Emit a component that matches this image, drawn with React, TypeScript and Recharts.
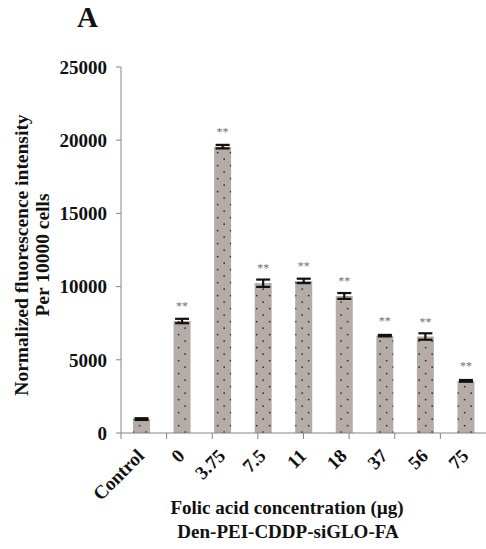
import { Bar, BarChart, ErrorBar, LabelList, XAxis, YAxis } from 'recharts';

const categories = ['Control', '0', '3.75', '7.5', '11', '18', '37', '56', '75'];
const intensity = [950, 7650, 19560, 10230, 10390, 9360, 6650, 6590, 3560];
const errors = [60, 150, 120, 250, 150, 200, 50, 220, 60];
const stars = ['', '**', '**', '**', '**', '**', '**', '**', '**'];
const yTicks = [0, 5000, 10000, 15000, 20000, 25000];
const boundaryTicks = [0, 1, 2, 3, 4, 5, 6, 7, 8, 9];

const data = categories.map((name, i) => ({
  name,
  value: intensity[i],
  err: errors[i],
  star: stars[i],
}));

const FONT = '"Liberation Serif", "Times New Roman", serif';
const AXIS = '#8a8280';

function CatTick(props: any) {
  const { x, y, payload } = props;
  return (
    <text
      x={x + 4}
      y={y + 15}
      transform={`rotate(-45 ${x + 4} ${y + 15})`}
      textAnchor="end"
      fontFamily={FONT}
      fontWeight="bold"
      fontSize={19}
      fill="#111"
    >
      {payload.value}
    </text>
  );
}

function StarLabel(props: any) {
  const { x, y, width, value } = props;
  if (!value) return null;
  return (
    <text
      x={x + width / 2}
      y={y - 11}
      textAnchor="middle"
      fontFamily={FONT}
      fontSize={12}
      fill="#707070"
    >
      {value}
    </text>
  );
}

function YTitle() {
  return (
    <g fontFamily={FONT} fontWeight="bold" fontSize={19.5} fill="#111">
      <text x={28} y={255} textAnchor="middle" transform="rotate(-90 28 255)">
        Normalized fluorescence intensity
      </text>
      <text x={49} y={255} textAnchor="middle" transform="rotate(-90 49 255)">
        Per 10000 cells
      </text>
    </g>
  );
}

function XTitle() {
  return (
    <g fontFamily={FONT} fontWeight="bold" fontSize={19} fill="#111">
      <text x={287} y={514} textAnchor="middle">
        Folic acid concentration (µg)
      </text>
      <text x={288} y={538} textAnchor="middle">
        Den-PEI-CDDP-siGLO-FA
      </text>
    </g>
  );
}

export default function App() {
  return (
    <div style={{ position: 'absolute', left: 0, top: 0, width: 486, height: 549, background: '#fff' }}>
      <svg width={0} height={0} style={{ position: 'absolute' }}>
        <defs>
          <pattern id="dotfill" patternUnits="userSpaceOnUse" width={13} height={13}>
            <rect width={13} height={13} fill="#b5aca8" />
            <rect x={2.4} y={2.4} width={1.5} height={1.5} fill="#2a2424" />
            <rect x={8.9} y={8.9} width={1.5} height={1.5} fill="#2a2424" />
          </pattern>
        </defs>
      </svg>
      <div
        style={{
          position: 'absolute',
          left: 77,
          top: 1,
          fontFamily: FONT,
          fontWeight: 'bold',
          fontSize: 29,
          color: '#111',
        }}
      >
        A
      </div>
      <BarChart
        width={486}
        height={549}
        data={data}
        margin={{ top: 67, right: 0, bottom: 0, left: 41 }}
      >
        <XAxis
          xAxisId="a"
          type="number"
          domain={[0, 9]}
          ticks={boundaryTicks}
          allowDataOverflow
          height={1}
          stroke={AXIS}
          tickSize={6}
          tick={() => <g />}
        />
        <XAxis
          xAxisId="b"
          dataKey="name"
          height={115}
          axisLine={false}
          tickLine={false}
          tick={<CatTick />}
          interval={0}
          label={<XTitle />}
        />
        <YAxis
          domain={[0, 25000]}
          ticks={yTicks}
          width={80}
          stroke={AXIS}
          tickSize={5}
          tickMargin={9}
          tick={{ fontFamily: FONT, fontWeight: 'bold', fontSize: 19, fill: '#111' }}
          label={<YTitle />}
        />
        <Bar
          xAxisId="b"
          dataKey="value"
          barSize={17}
          fill="url(#dotfill)"
          isAnimationActive={false}
        >
          <ErrorBar dataKey="err" stroke="#111" strokeWidth={2.2} width={7} />
          <LabelList dataKey="star" content={<StarLabel />} />
        </Bar>
      </BarChart>
    </div>
  );
}
